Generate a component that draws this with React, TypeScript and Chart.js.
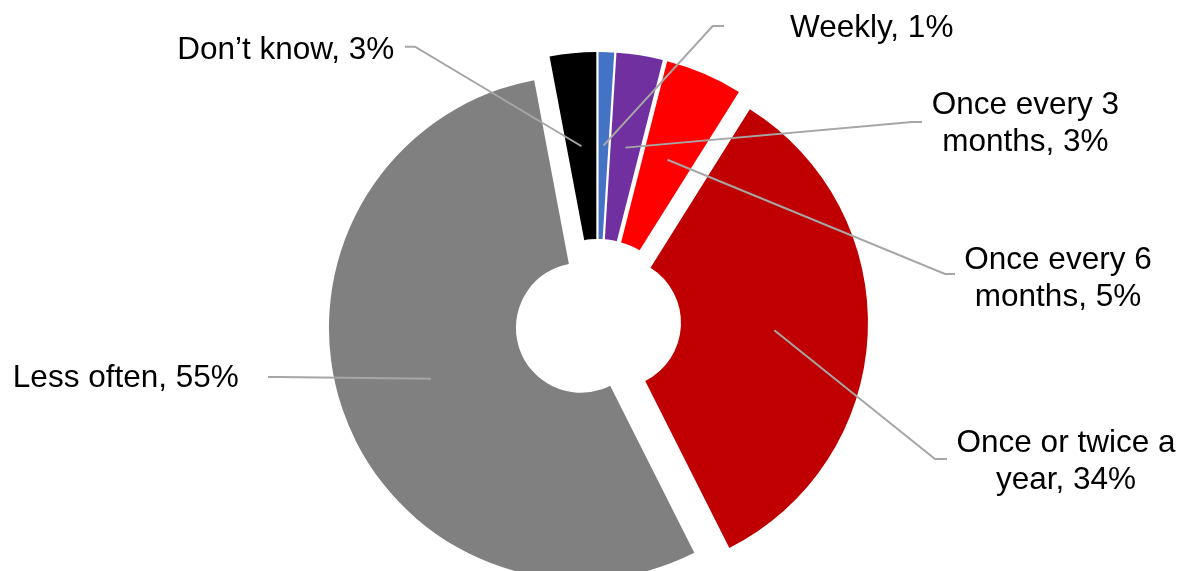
import React, { useEffect, useRef } from 'react';
import { Chart, registerables } from 'chart.js';

Chart.register(...registerables);

// ---- data ----
const categories = [
  'Weekly',
  'Once every 3 months',
  'Once every 6 months',
  'Once or twice a year',
  'Less often',
  'Don’t know',
];
const values = [1, 3, 5, 34, 55, 3];
const labelTexts = [
  ['Weekly, 1%'],
  ['Once every 3', 'months, 3%'],
  ['Once every 6', 'months, 5%'],
  ['Once or twice a', 'year, 34%'],
  ['Less often, 55%'],
  ['Don’t know, 3%'],
];

// ---- styles / layout ----
const colors = ['#4472C4', '#7030A0', '#FF0000', '#C00000', '#808080', '#000000'];
const EXPLODE = 18;
const FONT = '31.5px "Liberation Sans", Arial, sans-serif';
const LINE_H = 37;
const LEADER_COLOR = '#A6A6A6';
const labelLayout = [
  { tx: 871.7, ty: 37, elbow: [712.7, 26], end: [724, 26] },
  { tx: 1025.3, ty: 114.3, elbow: [912, 122], end: [922, 122] },
  { tx: 1058, ty: 268.5, elbow: [945, 274], end: [955, 274] },
  { tx: 1066, ty: 451.7, elbow: [935, 459], end: [947, 459] },
  { tx: 125.8, ty: 386.7, elbow: [278, 377], end: [268, 377] },
  { tx: 285.8, ty: 59.3, elbow: [415, 46.7], end: [405, 46.7] },
];

const explodePlugin = {
  id: 'explodeArcs',
  afterDatasetsUpdate(chart: any) {
    const meta = chart.getDatasetMeta(0);
    meta.data.forEach((arc: any) => {
      if (arc._exploded) return;
      const orig = Object.getPrototypeOf(arc).draw;
      arc.draw = function (ctx: CanvasRenderingContext2D, area: any) {
        const mid = (this.startAngle + this.endAngle) / 2;
        ctx.save();
        ctx.translate(Math.cos(mid) * EXPLODE, Math.sin(mid) * EXPLODE);
        orig.call(this, ctx, area);
        ctx.restore();
      };
      arc._exploded = true;
    });
  },
};

const labelPlugin = {
  id: 'leaderLabels',
  afterDraw(chart: any) {
    const ctx: CanvasRenderingContext2D = chart.ctx;
    const meta = chart.getDatasetMeta(0);
    ctx.save();
    meta.data.forEach((arc: any, i: number) => {
      const lay = labelLayout[i];
      const c = arc.getCenterPoint();
      const mid = (arc.startAngle + arc.endAngle) / 2;
      const ax = c.x + Math.cos(mid) * EXPLODE;
      const ay = c.y + Math.sin(mid) * EXPLODE;
      ctx.beginPath();
      ctx.strokeStyle = LEADER_COLOR;
      ctx.lineWidth = 2;
      ctx.lineJoin = 'miter';
      ctx.moveTo(ax, ay);
      ctx.lineTo(lay.elbow[0], lay.elbow[1]);
      ctx.lineTo(lay.end[0], lay.end[1]);
      ctx.stroke();
      ctx.fillStyle = '#000000';
      ctx.font = FONT;
      ctx.textAlign = 'center';
      ctx.textBaseline = 'alphabetic';
      labelTexts[i].forEach((line, j) => {
        ctx.fillText(line, lay.tx, lay.ty + j * LINE_H);
      });
    });
    ctx.restore();
  },
};

export default function App() {
  const ref = useRef<HTMLCanvasElement>(null);
  useEffect(() => {
    if (!ref.current) return;
    const chart = new Chart(ref.current, {
      type: 'doughnut',
      data: {
        labels: categories,
        datasets: [
          {
            data: values,
            backgroundColor: colors,
            borderWidth: 0,
            clip: false as any,
          } as any,
        ],
      },
      options: {
        responsive: false,
        animation: false,
        radius: 252,
        cutout: '25.8%',
        layout: { padding: { left: 12, top: 73, right: 0, bottom: 0 } },
        plugins: {
          legend: { display: false },
          tooltip: { enabled: false },
        },
        events: [],
      } as any,
      plugins: [explodePlugin, labelPlugin],
    });
    return () => chart.destroy();
  }, []);
  return (
    <div style={{ position: 'absolute', left: 0, top: 0, width: 1184, height: 571, background: '#fff' }}>
      <canvas ref={ref} width={1184} height={571} style={{ display: 'block' }} />
    </div>
  );
}
